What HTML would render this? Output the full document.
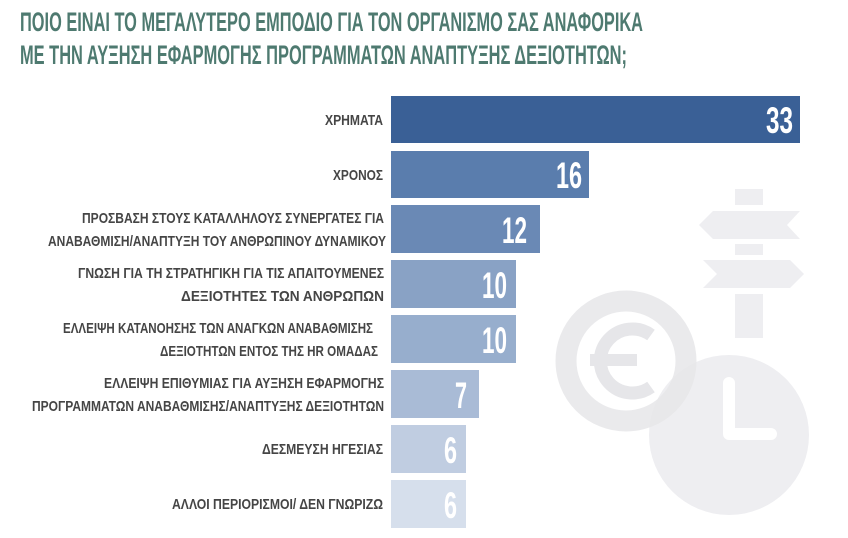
<!DOCTYPE html>
<html><head><meta charset="utf-8"><style>
html,body{margin:0;padding:0;background:#fff;}
svg{display:block;}
.t{font-family:"Liberation Sans","DejaVu Sans",sans-serif;font-weight:bold;fill:#4e7a70;font-size:27px;}
.l{font-family:"Liberation Sans","DejaVu Sans",sans-serif;font-weight:bold;fill:#454545;font-size:15px;}
.n{font-family:"Liberation Sans","DejaVu Sans",sans-serif;font-weight:bold;fill:#fff;font-size:37px;}
</style></head><body>
<svg width="848" height="538" viewBox="0 0 848 538" xmlns="http://www.w3.org/2000/svg">
<g fill="#eeeef1">
<rect x="735" y="189" width="28" height="16"/>
<polygon points="699,225 713,211 800,211 787,225 800,239 713,239"/>
<rect x="735" y="244" width="28" height="11"/>
<polygon points="703,260 790,260 804,274 790,288 703,288 717,274"/>
<rect x="735" y="294" width="28" height="44"/>
<circle cx="729" cy="435" r="80"/>
</g>
<circle cx="626" cy="361" r="60" fill="none" stroke="#e6e6e9" stroke-width="21" opacity="0.85"/>
<path d="M651,335 A32,32 0 1 0 651,387" fill="none" stroke="#e6e6e9" stroke-width="13"/>
<rect x="590" y="354" width="47" height="12" fill="#e6e6e9"/>
<path d="M729,383 V434 H771" fill="none" stroke="#fff" stroke-width="12" stroke-linecap="round" stroke-linejoin="round"/>

<text class="t" x="20" y="31" textLength="623" lengthAdjust="spacingAndGlyphs">ΠΟΙΟ ΕΙΝΑΙ ΤΟ ΜΕΓΑΛΥΤΕΡΟ ΕΜΠΟΔΙΟ ΓΙΑ ΤΟΝ ΟΡΓΑΝΙΣΜΟ ΣΑΣ ΑΝΑΦΟΡΙΚΑ</text>
<text class="t" x="20" y="64" textLength="607" lengthAdjust="spacingAndGlyphs">ΜΕ ΤΗΝ ΑΥΞΗΣΗ ΕΦΑΡΜΟΓΗΣ ΠΡΟΓΡΑΜΜΑΤΩΝ ΑΝΑΠΤΥΞΗΣ ΔΕΞΙΟΤΗΤΩΝ;</text>

<rect x="391" y="96" width="409" height="47" fill="#3a6096"/>
<rect x="391" y="151" width="198" height="47" fill="#5a7dad"/>
<rect x="391" y="205" width="149" height="48" fill="#6a89b5"/>
<rect x="391" y="260" width="125" height="48" fill="#89a2c5"/>
<rect x="391" y="315" width="125" height="48" fill="#97aecd"/>
<rect x="391" y="370" width="88" height="48" fill="#a9bbd6"/>
<rect x="391" y="425" width="75" height="48" fill="#c0cde1"/>
<rect x="391" y="480" width="75" height="48" fill="#d6dfec"/>

<text class="n" x="766" y="133" textLength="27" lengthAdjust="spacingAndGlyphs">33</text>
<text class="n" x="556" y="188" textLength="26" lengthAdjust="spacingAndGlyphs">16</text>
<text class="n" x="502" y="243" textLength="25" lengthAdjust="spacingAndGlyphs">12</text>
<text class="n" x="482" y="298" textLength="25" lengthAdjust="spacingAndGlyphs">10</text>
<text class="n" x="482" y="353" textLength="25" lengthAdjust="spacingAndGlyphs">10</text>
<text class="n" x="455" y="408" textLength="12" lengthAdjust="spacingAndGlyphs">7</text>
<text class="n" x="444" y="463" textLength="13" lengthAdjust="spacingAndGlyphs">6</text>
<text class="n" x="444" y="518" textLength="13" lengthAdjust="spacingAndGlyphs">6</text>

<text class="l" x="325" y="125" textLength="58" lengthAdjust="spacingAndGlyphs">ΧΡΗΜΑΤΑ</text>
<text class="l" x="333" y="180" textLength="50" lengthAdjust="spacingAndGlyphs">ΧΡΟΝΟΣ</text>
<text class="l" x="82" y="223" textLength="302" lengthAdjust="spacingAndGlyphs">ΠΡΟΣΒΑΣΗ ΣΤΟΥΣ ΚΑΤΑΛΛΗΛΟΥΣ ΣΥΝΕΡΓΑΤΕΣ ΓΙΑ</text>
<text class="l" x="48" y="246" textLength="338" lengthAdjust="spacingAndGlyphs">ΑΝΑΒΑΘΜΙΣΗ/ΑΝΑΠΤΥΞΗ ΤΟΥ ΑΝΘΡΩΠΙΝΟΥ ΔΥΝΑΜΙΚΟΥ</text>
<text class="l" x="78" y="278" textLength="306" lengthAdjust="spacingAndGlyphs">ΓΝΩΣΗ ΓΙΑ ΤΗ  ΣΤΡΑΤΗΓΙΚΗ ΓΙΑ ΤΙΣ ΑΠΑΙΤΟΥΜΕΝΕΣ</text>
<text class="l" x="181" y="301" textLength="203" lengthAdjust="spacingAndGlyphs">ΔΕΞΙΟΤΗΤΕΣ ΤΩΝ ΑΝΘΡΩΠΩΝ</text>
<text class="l" x="63" y="333" textLength="310" lengthAdjust="spacingAndGlyphs">ΕΛΛΕΙΨΗ ΚΑΤΑΝΟΗΣΗΣ ΤΩΝ ΑΝΑΓΚΩΝ ΑΝΑΒΑΘΜΙΣΗΣ</text>
<text class="l" x="160" y="356" textLength="218" lengthAdjust="spacingAndGlyphs">ΔΕΞΙΟΤΗΤΩΝ ΕΝΤΟΣ ΤΗΣ HR ΟΜΑΔΑΣ</text>
<text class="l" x="104" y="388" textLength="280" lengthAdjust="spacingAndGlyphs">ΕΛΛΕΙΨΗ ΕΠΙΘΥΜΙΑΣ ΓΙΑ ΑΥΞΗΣΗ ΕΦΑΡΜΟΓΗΣ</text>
<text class="l" x="32" y="411" textLength="352" lengthAdjust="spacingAndGlyphs">ΠΡΟΓΡΑΜΜΑΤΩΝ ΑΝΑΒΑΘΜΙΣΗΣ/ΑΝΑΠΤΥΞΗΣ ΔΕΞΙΟΤΗΤΩΝ</text>
<text class="l" x="262" y="454" textLength="121" lengthAdjust="spacingAndGlyphs">ΔΕΣΜΕΥΣΗ ΗΓΕΣΙΑΣ</text>
<text class="l" x="172" y="509" textLength="211" lengthAdjust="spacingAndGlyphs">ΑΛΛΟΙ ΠΕΡΙΟΡΙΣΜΟΙ/ ΔΕΝ ΓΝΩΡΙΖΩ</text>
</svg>
</body></html>
